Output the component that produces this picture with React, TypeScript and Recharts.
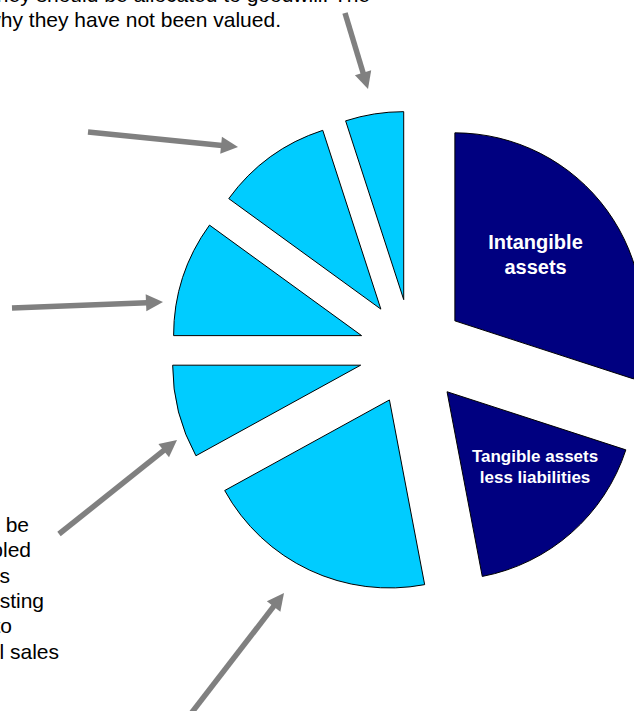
import React from "react";
import { PieChart, Pie, Cell } from "recharts";

// slices, clockwise from 12 o'clock
const sliceNames = [
  "Intangible assets",
  "Tangible assets less liabilities",
  "Unvalued item A",
  "Unvalued item B",
  "Unvalued item C",
  "Unvalued item D",
  "Unvalued item E",
];
const sliceValues = [30, 17, 20, 8, 10, 10, 5];
const sliceColors = ["#000080", "#000080", "#00CCFF", "#00CCFF", "#00CCFF", "#00CCFF", "#00CCFF"];
const sliceLabels = [["Intangible", "assets"], ["Tangible assets", "less liabilities"], [], [], [], [], []];

const topNote = ["which they should be allocated to goodwill. The", "reason why they have not been valued."];
const sideNote = ["could be", "assembled", "such as", "existing", "to", "retail sales"];

const data = sliceNames.map((name, i) => ({ name, value: sliceValues[i] }));

const W = 634;
const H = 711;
const CX = 412;
const CY = 352;
const R = 188;
const EXPLODE = 53;
const FONT = "'Liberation Sans', Arial, sans-serif";

// where the white text sits inside each dark slice (distance / angle from slice tip)
const labelSpots = {
  0: { r: 104.7, a: 39.6, size: 20, lh: 25 },
  1: { r: 115.4, a: -40.3, size: 17, lh: 21.6 },
};

const total = sliceValues.reduce((s, v) => s + v, 0);
const midAngles = sliceValues.map((v, i) => {
  const before = sliceValues.slice(0, i).reduce((s, x) => s + x, 0);
  return 90 - (360 * (before + v / 2)) / total;
});

const RAD = Math.PI / 180;

function makeLabel(own) {
  return (props) => {
    const { cx, cy, index } = props;
    const spot = labelSpots[index];
    if (index !== own || !spot) return null;
    const x = cx + spot.r * Math.cos(spot.a * RAD);
    const y = cy - spot.r * Math.sin(spot.a * RAD);
    const lines = sliceLabels[index];
    const first = y - ((lines.length - 1) * spot.lh) / 2 + spot.size * 0.35;
    return (
      <text
        x={x}
        y={first}
        textAnchor="middle"
        fill="#ffffff"
        fontFamily={FONT}
        fontWeight="bold"
        fontSize={spot.size}
      >
        {lines.map((l, k) => (
          <tspan key={k} x={x} dy={k === 0 ? 0 : spot.lh}>
            {l}
          </tspan>
        ))}
      </text>
    );
  };
}

function Arrow({ x1, y1, x2, y2 }) {
  const len = Math.hypot(x2 - x1, y2 - y1);
  const ux = (x2 - x1) / len;
  const uy = (y2 - y1) / len;
  const hl = 17;
  const hw = 8.5;
  const bx = x2 - ux * hl;
  const by = y2 - uy * hl;
  return (
    <g>
      <line x1={x1} y1={y1} x2={bx + ux} y2={by + uy} stroke="#808080" strokeWidth={5.5} />
      <polygon
        points={`${x2},${y2} ${bx - uy * hw},${by + ux * hw} ${bx + uy * hw},${by - ux * hw}`}
        fill="#808080"
      />
    </g>
  );
}

const arrows = [
  { x1: 345, y1: 13, x2: 368, y2: 89 },
  { x1: 88, y1: 132, x2: 238, y2: 147 },
  { x1: 12, y1: 308, x2: 163, y2: 302 },
  { x1: 59, y1: 534, x2: 177, y2: 440 },
  { x1: 186, y1: 720, x2: 284, y2: 593 },
];

const sideEnds = [29, 31, 10, 44, 12, 59];

export default function App() {
  return (
    <div style={{ position: "absolute", left: 0, top: 0, width: W, height: H, overflow: "hidden", background: "#fff" }}>
      <PieChart width={W} height={H} margin={{ top: 0, right: 0, bottom: 0, left: 0 }}>
        {sliceNames.map((_, own) => (
          <Pie
            key={own}
            data={data}
            dataKey="value"
            nameKey="name"
            cx={CX + EXPLODE * Math.cos(midAngles[own] * RAD)}
            cy={CY - EXPLODE * Math.sin(midAngles[own] * RAD)}
            outerRadius={R}
            innerRadius={0}
            startAngle={90}
            endAngle={-270}
            isAnimationActive={false}
            labelLine={false}
            label={makeLabel(own)}
          >
            {data.map((d, i) => (
              <Cell
                key={d.name}
                fill={i === own ? sliceColors[i] : "transparent"}
                stroke={i === own ? "#000000" : "none"}
                strokeWidth={1}
              />
            ))}
          </Pie>
        ))}
      </PieChart>
      <svg width={W} height={H} style={{ position: "absolute", left: 0, top: 0, pointerEvents: "none" }}>
        {arrows.map((a, i) => (
          <Arrow key={i} {...a} />
        ))}
        <g fontFamily={FONT} fontSize={21} fill="#000">
          <text x={370} y={2} textAnchor="end">{topNote[0]}</text>
          <text x={281} y={27} textAnchor="end">{topNote[1]}</text>
          {sideNote.map((t, i) => (
            <text key={i} x={sideEnds[i]} y={532 + i * 25.3} textAnchor="end">
              {t}
            </text>
          ))}
        </g>
      </svg>
    </div>
  );
}
